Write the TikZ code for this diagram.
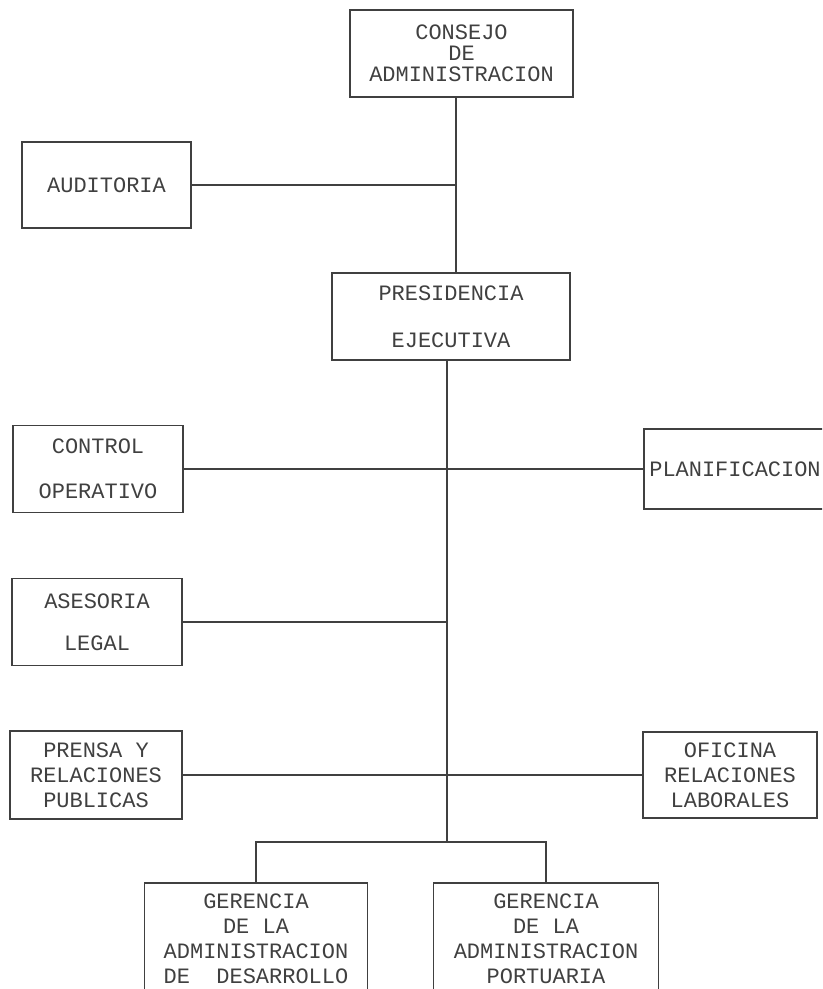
\documentclass[tikz,border=0pt]{standalone}
\usepackage{fontspec}
\setmonofont{Liberation Mono}
\usetikzlibrary{positioning,calc}

\begin{document}
\begin{tikzpicture}[
  x=0.02cm, y=-0.02cm,
  font=\ttfamily\fontsize{12.5}{12}\selectfont,
  unit/.style={draw=black!75, line width=0.8pt, align=center, text=black!75, inner sep=0pt},
  link/.style={draw=black!75, line width=0.8pt}
]

% ================= page =================
\useasboundingbox (0,0) rectangle (822,989);
\clip (0,0) rectangle (822,989);

% ================= Top =================
\node[unit, minimum width=4.46cm, minimum height=1.74cm] (consejo) at (461.5,53.5)
  {CONSEJO\\DE\\ADMINISTRACION};
\node[unit, minimum width=3.38cm, minimum height=1.72cm] (auditoria) at (106.5,185)
  {AUDITORIA};
\node[unit, minimum width=4.76cm, minimum height=1.74cm] (presidencia) at (451,316.5)
  {PRESIDENCIA\\[14.6pt]EJECUTIVA};

% ================= Staff =================
\node[unit, minimum width=3.4cm, minimum height=1.74cm] (control) at (98,469)
  {CONTROL\\[13.5pt]OPERATIVO};
\node[unit, minimum width=3.64cm, minimum height=1.6cm] (planificacion) at (735,469)
  {PLANIFICACION};
\node[unit, minimum width=3.4cm, minimum height=1.74cm] (asesoria) at (97,622)
  {ASESORIA\\[11.8pt]LEGAL};
\node[unit, minimum width=3.44cm, minimum height=1.76cm] (prensa) at (96,775)
  {PRENSA Y\\[2.2pt]RELACIONES\\[2.2pt]PUBLICAS};
\node[unit, minimum width=3.48cm, minimum height=1.72cm] (oficina) at (730,775)
  {OFICINA\\[2.2pt]RELACIONES\\[2.2pt]LABORALES};

% ================= Line units =================
\node[unit, minimum width=4.46cm, minimum height=2.24cm] (desarrollo) at (256,939)
  {GERENCIA\\[2.2pt]DE LA\\[2.2pt]ADMINISTRACION\\[2.2pt]DE~~DESARROLLO};
\node[unit, minimum width=4.5cm, minimum height=2.24cm] (portuaria) at (546,939)
  {GERENCIA\\[2.2pt]DE LA\\[2.2pt]ADMINISTRACION\\[2.2pt]PORTUARIA};

% ================= Connectors =================
\coordinate (jAud) at (456,185);
\coordinate (jLegal) at (447,622);
\coordinate (jBase) at (447,842);

\draw[link] (consejo.south -| jAud) -- (presidencia.north -| jAud);
\draw[link] (auditoria.east) -- (jAud);
\draw[link] (presidencia.south -| jBase) -- (jBase);
\draw[link] (control.east) -- (planificacion.west);
\draw[link] (asesoria.east) -- (jLegal);
\draw[link] (prensa.east) -- (oficina.west);
\draw[link] (desarrollo.north) |- (jBase) -| (portuaria.north);

\end{tikzpicture}
\end{document}
